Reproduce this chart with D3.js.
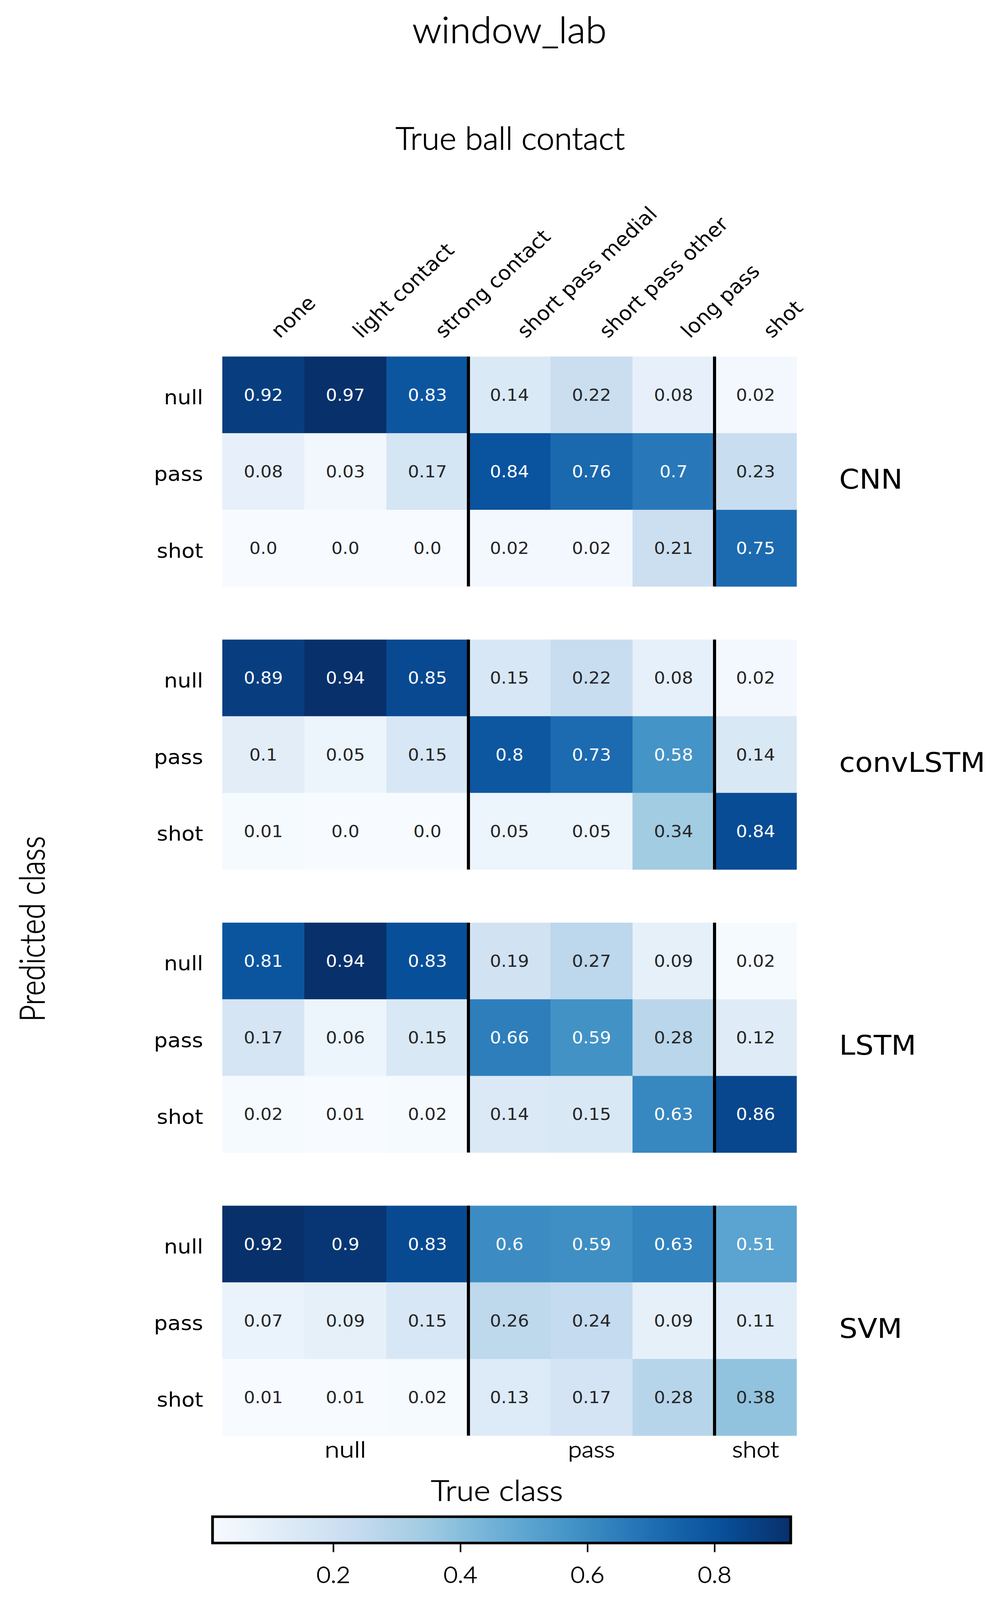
<!DOCTYPE html>
<html>
<head>
<meta charset="utf-8">
<script src="https://cdn.jsdelivr.net/npm/d3@7"></script>
<style>
  html, body { margin: 0; padding: 0; background: #ffffff; overflow: hidden; }
  svg { display: block; }
</style>
</head>
<body>
<svg id="chart"></svg>
<script>
// ---------------- DATA ----------------
const trueContacts = ["none", "light contact", "strong contact", "short pass medial", "short pass other", "long pass", "shot"];
const predictedClasses = ["null", "pass", "shot"];
const trueClassGroups = ["null", "pass", "shot"];
const groupSpans = [[0, 3], [3, 6], [6, 7]];
const models = ["CNN", "convLSTM", "LSTM", "SVM"];

const cnnValues = [
  [0.92, 0.97, 0.83, 0.14, 0.22, 0.08, 0.02],
  [0.08, 0.03, 0.17, 0.84, 0.76, 0.7, 0.23],
  [0.0, 0.0, 0.0, 0.02, 0.02, 0.21, 0.75]
];
const convLstmValues = [
  [0.89, 0.94, 0.85, 0.15, 0.22, 0.08, 0.02],
  [0.1, 0.05, 0.15, 0.8, 0.73, 0.58, 0.14],
  [0.01, 0.0, 0.0, 0.05, 0.05, 0.34, 0.84]
];
const lstmValues = [
  [0.81, 0.94, 0.83, 0.19, 0.27, 0.09, 0.02],
  [0.17, 0.06, 0.15, 0.66, 0.59, 0.28, 0.12],
  [0.02, 0.01, 0.02, 0.14, 0.15, 0.63, 0.86]
];
const svmValues = [
  [0.92, 0.9, 0.83, 0.6, 0.59, 0.63, 0.51],
  [0.07, 0.09, 0.15, 0.26, 0.24, 0.09, 0.11],
  [0.01, 0.01, 0.02, 0.13, 0.17, 0.28, 0.38]
];
const modelValues = [cnnValues, convLstmValues, lstmValues, svmValues];
const colorbarTicks = [0.2, 0.4, 0.6, 0.8];
const bluesStops = ["#f7fbff", "#deebf7", "#c6dbef", "#9ecae1", "#6baed6", "#4292c6", "#2171b5", "#08519c", "#08306b"];

// ---------------- LAYOUT ----------------
const W = 2552, H = 4380;
const viewH = Math.min(H, window.innerHeight || H);
const svg = d3.select("#chart")
  .attr("width", W).attr("height", viewH)
  .attr("viewBox", `0 0 ${W} ${H}`)
  .attr("preserveAspectRatio", "none");
svg.append("rect").attr("width", W).attr("height", H).attr("fill", "#fff");

const SANS_TEX = "Lato, 'Open Sans', sans-serif";
const DEJAVU = "'DejaVu Sans', sans-serif";

const x = d3.scaleBand().domain(trueContacts).range([569, 2039]);
const panel = d3.scaleBand().domain(models).range([976, 3930]).paddingInner(0.1877).paddingOuter(0);
const y = d3.scaleBand().domain(predictedClasses).range([0, panel.bandwidth()]);

function makeBlues(vmin, vmax) {
  return d3.scaleLinear()
    .domain(bluesStops.map((_, i) => vmin + i / (bluesStops.length - 1) * (vmax - vmin)))
    .range(bluesStops)
    .interpolate(d3.interpolateRgb)
    .clamp(true);
}
function relLum(c) {
  const rgb = d3.rgb(c);
  const f = v => { v /= 255; return v <= 0.03928 ? v / 12.92 : Math.pow((v + 0.055) / 1.055, 2.4); };
  return 0.2126 * f(rgb.r) + 0.7152 * f(rgb.g) + 0.0722 * f(rgb.b);
}
function fmt(v) {
  const s = String(Math.round(v * 100) / 100);
  return s.indexOf(".") < 0 ? s + ".0" : s;
}
function texText(g, str, opts) {
  const t = g.append("text")
    .attr("x", opts.x).attr("y", opts.y)
    .attr("font-family", SANS_TEX)
    .attr("font-weight", 300)
    .attr("font-size", opts.size)
    .attr("text-anchor", opts.anchor || "middle")
    .attr("fill", "#000")
    .attr("stroke", "#000")
    .attr("stroke-width", 1.4)
    .text(str);
  if (opts.len) t.attr("textLength", opts.len).attr("lengthAdjust", "spacingAndGlyphs");
  if (opts.transform) t.attr("transform", opts.transform);
  return t;
}

// Title & top axis title
texText(svg, "window_lab", { x: 1304, y: 118, size: 100, len: 497 });
texText(svg, "True ball contact", { x: 1306, y: 410, size: 86, len: 587 });

// Column labels (rotated)
svg.append("g").selectAll("text").data(trueContacts).join("text")
  .attr("font-family", DEJAVU)
  .attr("font-size", 54)
  .attr("text-anchor", "start")
  .attr("fill", "#000")
  .attr("transform", d => `translate(${x(d) + x.bandwidth() / 2 + 42},${928}) rotate(-45)`)
  .text(d => d);

// Panels
models.forEach((m, k) => {
  const vals = modelValues[k];
  const flat = vals.flat();
  const color = makeBlues(d3.min(flat), d3.max(flat));
  const g = svg.append("g").attr("transform", `translate(0,${panel(m)})`);

  const cells = [];
  vals.forEach((row, r) => row.forEach((v, c) => cells.push({ r, c, v })));

  g.selectAll("rect.cell").data(cells).join("rect")
    .attr("class", "cell")
    .attr("x", d => x(trueContacts[d.c]))
    .attr("y", d => y(predictedClasses[d.r]))
    .attr("width", x.bandwidth() + 0.5)
    .attr("height", y.bandwidth() + 0.5)
    .attr("fill", d => color(d.v));

  g.selectAll("text.ann").data(cells).join("text")
    .attr("class", "ann")
    .attr("x", d => x(trueContacts[d.c]) + x.bandwidth() / 2)
    .attr("y", d => y(predictedClasses[d.r]) + y.bandwidth() / 2 + 16)
    .attr("text-anchor", "middle")
    .attr("font-family", DEJAVU)
    .attr("font-size", 45)
    .attr("fill", d => relLum(color(d.v)) > 0.408 ? "#262626" : "#ffffff")
    .text(d => fmt(d.v));

  // separators between groups
  const seps = groupSpans.slice(0, -1).map(s => s[1]);
  g.selectAll("line.sep").data(seps).join("line")
    .attr("class", "sep")
    .attr("x1", d => x(trueContacts[d])).attr("x2", d => x(trueContacts[d]))
    .attr("y1", 0).attr("y2", panel.bandwidth())
    .attr("stroke", "#000").attr("stroke-width", 8);

  // row labels
  g.selectAll("text.row").data(predictedClasses).join("text")
    .attr("class", "row")
    .attr("x", 520)
    .attr("y", d => y(d) + y.bandwidth() / 2 + 26)
    .attr("text-anchor", "end")
    .attr("font-family", DEJAVU)
    .attr("font-size", 55)
    .attr("fill", "#000")
    .text(d => d);

  // model label
  g.append("text")
    .attr("x", 2148)
    .attr("y", panel.bandwidth() / 2 + 47)
    .attr("font-family", DEJAVU)
    .attr("font-size", 74)
    .attr("fill", "#000")
    .text(m);
});

// Predicted class label
texText(svg, "Predicted class", { x: 0, y: 0, size: 88, len: 508, transform: "translate(114,2543) rotate(-90)" });

// Bottom group labels
const groupLens = [106, 120, 120];
trueClassGroups.forEach((gname, i) => {
  const [a, b] = groupSpans[i];
  const cx = (x(trueContacts[a]) + x(trueContacts[b - 1]) + x.bandwidth()) / 2;
  texText(svg, gname, { x: cx, y: 3990, size: 62, len: groupLens[i] });
});
texText(svg, "True class", { x: 1272, y: 4108, size: 78, len: 338 });

// Colorbar
const allVals = svmValues.flat();
const cbMin = d3.min(allVals), cbMax = d3.max(allVals);
const cbColor = makeBlues(cbMin, cbMax);
const cbX = d3.scaleLinear().domain([cbMin, cbMax]).range([544, 2024]);
const defs = svg.append("defs");
const grad = defs.append("linearGradient").attr("id", "cbgrad").attr("x1", "0%").attr("x2", "100%");
d3.range(0, 1.0001, 0.02).forEach(t => {
  grad.append("stop").attr("offset", (t * 100) + "%").attr("stop-color", cbColor(cbMin + t * (cbMax - cbMin)));
});
const cbTop = 4152, cbH = 72;
svg.append("rect")
  .attr("x", cbX(cbMin)).attr("y", cbTop)
  .attr("width", cbX(cbMax) - cbX(cbMin)).attr("height", cbH)
  .attr("fill", "url(#cbgrad)")
  .attr("stroke", "#000").attr("stroke-width", 7);

const cbAxis = svg.append("g")
  .attr("transform", `translate(0,${cbTop + cbH + 3})`)
  .call(d3.axisBottom(cbX).tickValues(colorbarTicks).tickSize(22).tickPadding(40).tickFormat(d3.format(".1f")));
cbAxis.select(".domain").remove();
cbAxis.selectAll(".tick line").attr("stroke", "#000").attr("stroke-width", 4);
cbAxis.selectAll(".tick text")
  .attr("font-family", SANS_TEX)
  .attr("font-weight", 300)
  .attr("font-size", 62)
  .attr("fill", "#000")
  .attr("stroke", "#000")
  .attr("stroke-width", 1.4);
</script>
</body>
</html>
